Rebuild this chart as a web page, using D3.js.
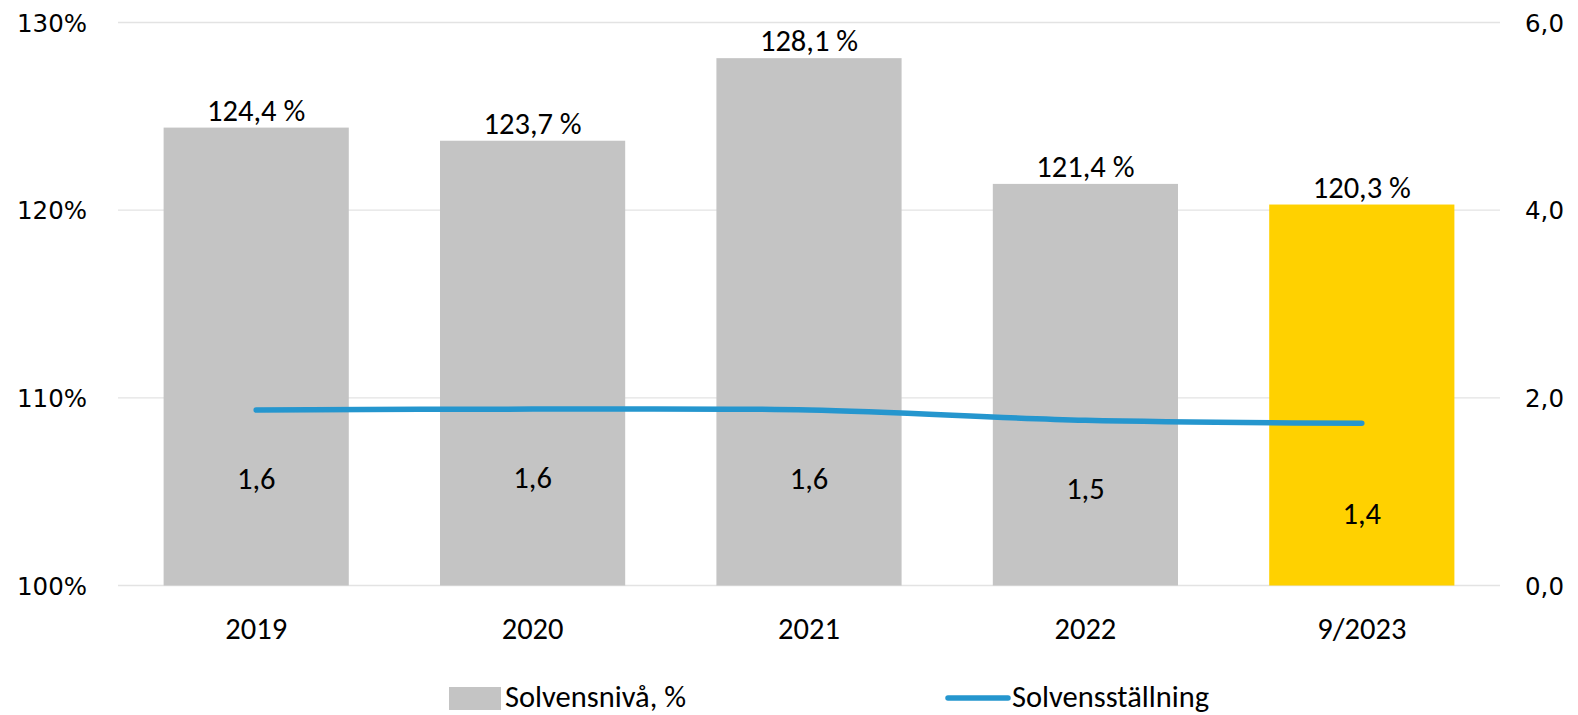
<!DOCTYPE html>
<html><head><meta charset="utf-8">
<script src="https://cdn.jsdelivr.net/npm/d3@7"></script>
<style>
html,body{margin:0;padding:0;background:#fff;}
svg{display:block;}
.lbl{font-family:Carlito,Lato,"Open Sans",sans-serif;font-size:30.5px;fill:#000;}
.tick{font-family:"DejaVu Sans",Verdana,sans-serif;font-size:24.5px;fill:#000;}
</style></head>
<body>
<svg id="c" width="1578" height="715"></svg>
<script>
// ---- data ----
const categories = ["2019", "2020", "2021", "2022", "9/2023"];
const solvensniva = [124.4, 123.7, 128.1, 121.4, 120.3];          // %, bars (left axis)
const solvensstallning = [1.57, 1.58, 1.57, 1.46, 1.43];          // line values
const leftTicks = [100, 110, 120, 130];
const rightTicks = [0, 2, 4, 6];
const seriesNames = ["Solvensnivå, %", "Solvensställning"];

// ---- layout ----
const W = 1578, H = 715;
const plot = {left: 118, right: 1500, top: 22.5, bottom: 585.5};
const barColor = "#C4C4C4", highlightColor = "#FFD100", lineColor = "#2596CE";
const manualLabelShiftLast = 22; // last line label was moved down in the original

const svg = d3.select("#c");
const fmt1 = v => d3.format(".1f")(v).replace(".", ",");

const x = d3.scaleBand().domain(categories).range([plot.left, plot.right])
  .paddingInner(0.33).paddingOuter(0.165);
const yL = d3.scaleLinear().domain([100, 130]).range([plot.bottom, plot.top]);
const yR = d3.scaleLinear().domain([0, 6]).range([plot.bottom, plot.top]);
// the line in the original sits on a secondary scale offset by 0.3 units
const yLine = d3.scaleLinear().domain([-0.3, 5.7]).range([plot.bottom, plot.top]);

// gridlines
svg.append("g").selectAll("line").data(leftTicks).join("line")
  .attr("x1", plot.left).attr("x2", plot.right)
  .attr("y1", d => yL(d)).attr("y2", d => yL(d))
  .attr("stroke", "#E3E3E3").attr("stroke-width", 1.3);

// left axis labels
const axL = svg.append("g").attr("transform", `translate(${plot.left - 31},0)`)
  .call(d3.axisLeft(yL).tickValues(leftTicks).tickSize(0).tickFormat(d => d + "%"));
axL.select(".domain").remove();
axL.selectAll("text").attr("class", "tick").attr("x", 0).attr("dy", "0.36em");

// right axis labels
const axR = svg.append("g").attr("transform", `translate(${plot.right + 25},0)`)
  .call(d3.axisRight(yR).tickValues(rightTicks).tickSize(0).tickFormat(fmt1));
axR.select(".domain").remove();
axR.selectAll("text").attr("class", "tick").attr("x", 0).attr("dy", "0.36em");

// bars
const last = categories.length - 1;
svg.append("g").selectAll("rect").data(solvensniva).join("rect")
  .attr("x", (d, i) => x(categories[i]))
  .attr("width", x.bandwidth())
  .attr("y", d => yL(d))
  .attr("height", d => yL(100) - yL(d))
  .attr("fill", (d, i) => i === last ? highlightColor : barColor);

// bar labels
svg.append("g").selectAll("text").data(solvensniva).join("text")
  .attr("class", "lbl").attr("text-anchor", "middle")
  .attr("x", (d, i) => x(categories[i]) + x.bandwidth() / 2)
  .attr("y", d => yL(d) - 7)
  .text(d => fmt1(d) + " %");

// x axis labels
const axX = svg.append("g").attr("transform", `translate(0,${plot.bottom})`)
  .call(d3.axisBottom(x).tickSize(0));
axX.select(".domain").remove();
axX.selectAll("text").attr("class", "lbl").attr("y", 0).attr("dy", "53px");

// line
const cx = i => x(categories[i]) + x.bandwidth() / 2;
const line = d3.line().x((d, i) => cx(i)).y(d => yLine(d)).curve(d3.curveCatmullRom.alpha(0.5));
svg.append("path").datum(solvensstallning)
  .attr("d", line).attr("fill", "none").attr("stroke", lineColor)
  .attr("stroke-width", 5.5).attr("stroke-linecap", "round");

// line labels
svg.append("g").selectAll("text").data(solvensstallning).join("text")
  .attr("class", "lbl").attr("text-anchor", "middle")
  .attr("x", (d, i) => cx(i))
  .attr("y", (d, i) => yLine(d) + 79 + (i === last ? manualLabelShiftLast : 0))
  .text(d => fmt1(d));

// legend
const lg = svg.append("g");
lg.append("rect").attr("x", 449).attr("y", 687).attr("width", 52).attr("height", 23).attr("fill", barColor);
lg.append("text").attr("class", "lbl").attr("x", 505).attr("y", 707).text(seriesNames[0]);
lg.append("line").attr("x1", 948).attr("x2", 1008).attr("y1", 698).attr("y2", 698)
  .attr("stroke", lineColor).attr("stroke-width", 5.5).attr("stroke-linecap", "round");
lg.append("text").attr("class", "lbl").attr("x", 1012).attr("y", 707).text(seriesNames[1]);
</script>
</body></html>
